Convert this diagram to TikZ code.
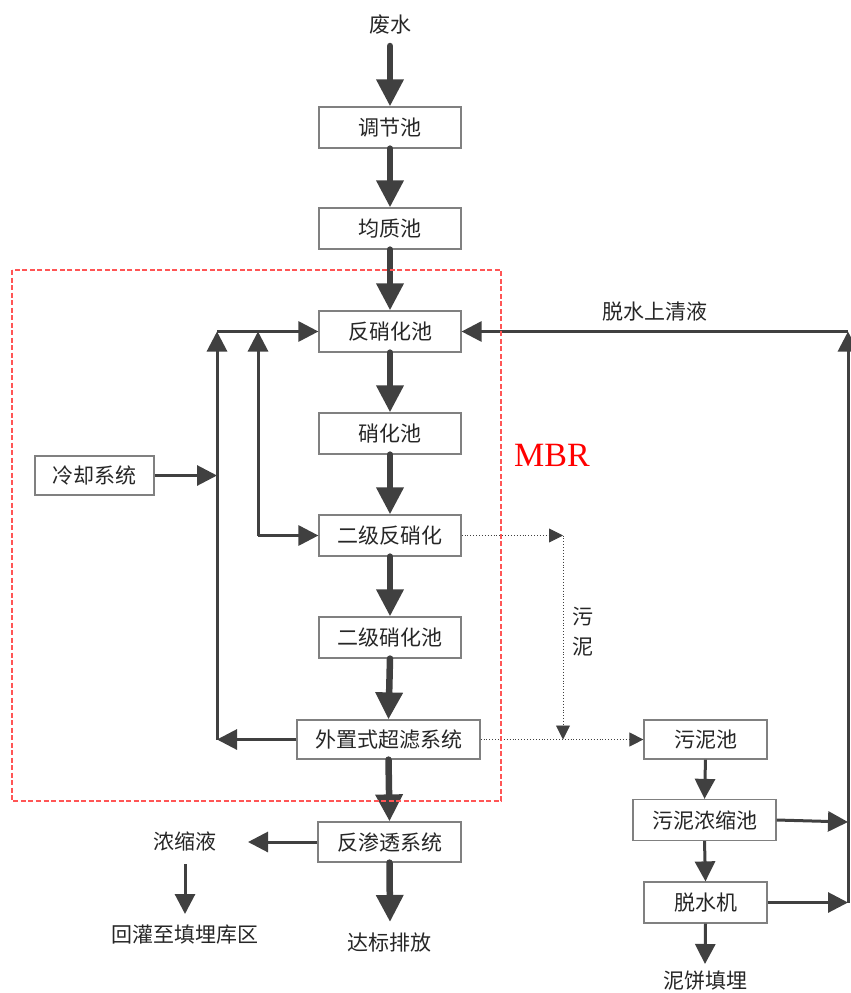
\documentclass[tikz,border=0pt]{standalone}
\usepackage{fontspec}
\setmainfont{Liberation Serif}
\newfontfamily\cjk{Noto Sans CJK SC}
\usetikzlibrary{arrows.meta}
\definecolor{ln}{HTML}{404040}
\definecolor{bx}{HTML}{808080}
\definecolor{mbr}{HTML}{FF5555}
\tikzset{
  box/.style={draw=bx, line width=1.2pt, fill=white, minimum width=142pt, minimum height=41pt, inner sep=0pt, font=\cjk\fontsize{21}{24}\selectfont, text=black!85},
  lbl/.style={inner sep=0pt, font=\cjk\fontsize{21}{30}\selectfont, text=black!85, align=center},
  big/.style={draw=ln, line width=6.5pt, line cap=round, -{Triangle[length=27pt,width=26pt]}},
  mid/.style={draw=ln, line width=3pt, -{Triangle[length=20pt,width=20pt]}},
  dotl/.style={draw=ln, line width=0.9pt, dotted, -{Triangle[length=14pt,width=14pt]}},
}
\begin{document}
\begin{tikzpicture}[x=1pt,y=-1pt]
\useasboundingbox (0,0) rectangle (851,993);
% texts and boxes
\node[lbl] (fs) at (390,25) {废水};
\node[box] (tj) at (390,127.5) {调节池};
\node[box] (jz) at (390,228.5) {均质池};
\node[box] (fx) at (390,331.5) {反硝化池};
\node[box] (xh) at (390,433.5) {硝化池};
\node[box] (ej) at (390,535.5) {二级反硝化};
\node[box] (ejx) at (390,637.5) {二级硝化池};
\node[box, minimum width=183pt, minimum height=39pt] (uf) at (388.5,739.5) {外置式超滤系统};
\node[box, minimum width=143pt, minimum height=40pt] (ro) at (389.5,842) {反渗透系统};
\node[lbl] (nsy) at (185,841) {浓缩液};
\node[lbl] (hg) at (185,935) {回灌至填埋库区};
\node[lbl] (db) at (389,943) {达标排放};
\node[box, minimum width=119pt, minimum height=39pt] (lq) at (94.5,475.5) {冷却系统};
\node[inner sep=0pt, text=red, font=\fontsize{34}{40}\selectfont] (mbrl) at (552,455) {MBR};
\node[lbl] (sq) at (655,311) {脱水上清液};
\node[box, minimum width=123pt, minimum height=39pt] (wn) at (705.5,739.5) {污泥池};
\node[box, minimum width=143pt, minimum height=41pt] (wnn) at (704.5,820) {污泥浓缩池};
\node[box, minimum width=123pt, minimum height=41pt] (tsj) at (705.5,902.5) {脱水机};
\node[lbl] (nb) at (705,981) {泥饼填埋};
\node[lbl] (wuni) at (583,632) {污\\泥};
% free ends
\coordinate (s0) at (390,46);
\coordinate (e1) at (390,922);
\coordinate (lA) at (217,739.5);
\coordinate (lB) at (217,475.5);
\coordinate (lT) at (217,331.5);
\coordinate (mB) at (258,535.5);
\coordinate (mT) at (258,331.5);
\coordinate (rT) at (848,331.5);
\coordinate (rB) at (848,902.5);
\coordinate (rM) at (848,822);
\coordinate (nL) at (248,842);
\coordinate (n1) at (185,864);
\coordinate (n2) at (185,914);
\coordinate (nbT) at (705,964);
\coordinate (dA) at (563,535.5);
\coordinate (dB) at (563,739.5);
% main thick arrows
\draw[big] (s0) -- (tj.north);
\draw[big] (tj.south) -- (jz.north);
\draw[big] (jz.south) -- (fx.north);
\draw[big] (fx.south) -- (xh.north);
\draw[big] (xh.south) -- (ej.north);
\draw[big] (ej.south) -- (ejx.north);
\draw[big] (ejx.south) -- (uf.north);
\draw[big] (uf.south) -- (ro.north);
\draw[big] (ro.south) -- (e1);
% left recirculation
\draw[mid] (lq.east) -- (lB);
\draw[mid] (uf.west) -- (lA);
\draw[mid] (lA) -- (lT);
\draw[mid] (lT) -- (fx.west);
\draw[mid] (mB) -- (mT);
\draw[mid] (mB) -- (ej.west);
% right return
\draw[mid] (rB) -- (rT);
\draw[mid] (rT) -- (fx.east);
\draw[mid] (wnn.east) -- (rM);
\draw[mid] (tsj.east) -- (rB);
% RO concentrate
\draw[mid] (ro.west) -- (nL);
\draw[mid] (n1) -- (n2);
% sludge line
\draw[mid] (wn.south) -- (wnn.north);
\draw[mid] (wnn.south) -- (tsj.north);
\draw[mid] (tsj.south) -- (nbT);
\draw[dotl] (ej.east) -- (dA);
\draw[dotl] (dA) -- (dB);
\draw[dotl] (uf.east) -- (wn.west);
% MBR boundary
\draw[mbr, line width=1.3pt, dash pattern=on 5pt off 2.5pt] (12,270) rectangle (501,801);
\end{tikzpicture}
\end{document}
